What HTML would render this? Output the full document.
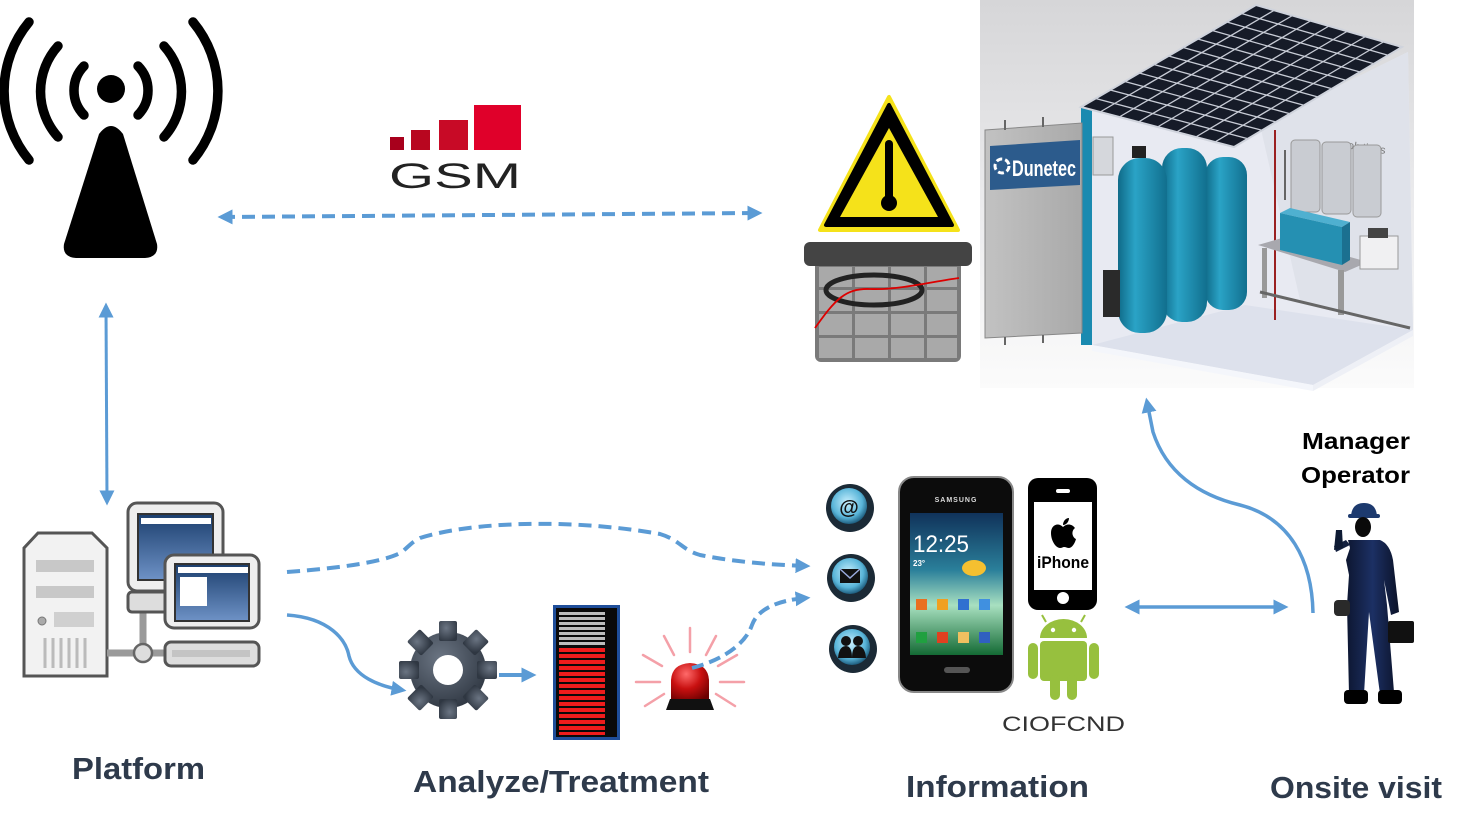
<!DOCTYPE html>
<html><head><meta charset="utf-8"><style>
html,body{margin:0;padding:0;background:#fff;}
svg{display:block;}
.lbl{font-family:"Liberation Sans",sans-serif;font-weight:bold;fill:#2e3a4b;}
</style></head><body>
<svg width="1464" height="833" viewBox="0 0 1464 833" xmlns="http://www.w3.org/2000/svg">
<defs>
<marker id="ah" viewBox="0 0 10 10" refX="7" refY="5" markerUnits="userSpaceOnUse" markerWidth="15" markerHeight="15" orient="auto-start-reverse"><path d="M0,0 L10,5 L0,10 Z" fill="#5b9bd5"/></marker>
<linearGradient id="bgc" x1="0" y1="0" x2="0" y2="1"><stop offset="0" stop-color="#d6d6d8"/><stop offset="0.55" stop-color="#ececee"/><stop offset="1" stop-color="#fbfbfb"/></linearGradient>
<linearGradient id="tank" x1="0" y1="0" x2="1" y2="0"><stop offset="0" stop-color="#0f6a88"/><stop offset="0.35" stop-color="#2aa3c6"/><stop offset="1" stop-color="#116f8e"/></linearGradient>
<linearGradient id="scr" x1="0" y1="0" x2="0" y2="1"><stop offset="0" stop-color="#1c3f6e"/><stop offset="1" stop-color="#6e92c6"/></linearGradient>
<linearGradient id="ph" x1="0" y1="0" x2="0" y2="1"><stop offset="0" stop-color="#10325a"/><stop offset="0.4" stop-color="#2a7f9a"/><stop offset="0.65" stop-color="#a8e0c0"/><stop offset="1" stop-color="#136a34"/></linearGradient>
<radialGradient id="ic" cx="0.45" cy="0.4" r="0.6"><stop offset="0" stop-color="#c8f0ff"/><stop offset="0.7" stop-color="#58b4d8"/><stop offset="1" stop-color="#1f5f80"/></radialGradient>
<radialGradient id="gear" cx="0.4" cy="0.35" r="0.7"><stop offset="0" stop-color="#6b7583"/><stop offset="1" stop-color="#2f3742"/></radialGradient>
<radialGradient id="dome" cx="0.4" cy="0.3" r="0.8"><stop offset="0" stop-color="#ff6a6a"/><stop offset="0.5" stop-color="#c81010"/><stop offset="1" stop-color="#6a0000"/></radialGradient>
<linearGradient id="door" x1="0" y1="0" x2="1" y2="0"><stop offset="0" stop-color="#c2c2c2"/><stop offset="1" stop-color="#a9a9a9"/></linearGradient>
<linearGradient id="worker" x1="0" y1="0" x2="1" y2="0"><stop offset="0" stop-color="#0d1630"/><stop offset="0.5" stop-color="#1c3064"/><stop offset="1" stop-color="#0b1228"/></linearGradient>
</defs>

<!-- Antenna -->
<g fill="none" stroke="#000" stroke-width="9.5" stroke-linecap="round">
<path d="M84,66 A35,35 0 0 0 84,115"/>
<path d="M138,66 A35,35 0 0 1 138,115"/>
<path d="M58,46 A68,68 0 0 0 58,137"/>
<path d="M164,46 A68,68 0 0 1 164,137"/>
<path d="M29,22 A108,108 0 0 0 29,160"/>
<path d="M193,22 A108,108 0 0 1 193,160"/>
</g>
<circle cx="111" cy="89" r="14" fill="#000"/>
<path d="M99,134 Q111,118 123,134 L157,244 Q159,257 145,258 L76,258 Q62,257 64,244 Z" fill="#000"/>

<!-- GSM -->
<rect x="390" y="137" width="14" height="13" fill="#a8001c"/>
<rect x="411" y="130" width="19" height="20" fill="#b8061f"/>
<rect x="439" y="120" width="29" height="30" fill="#c80a26"/>
<rect x="474" y="105" width="47" height="45" fill="#e0002a"/>
<text x="389" y="188" font-family="Liberation Sans, sans-serif" font-size="35" fill="#222" textLength="132" lengthAdjust="spacingAndGlyphs">GSM</text>

<!-- Warning triangle -->
<path d="M889,97 L820,230 L958,230 Z" fill="#f5e21a" stroke="#f5e21a" stroke-width="4" stroke-linejoin="round"/>
<path d="M889,105 L826,225 L952,225 Z" fill="#000" stroke="#000" stroke-width="4" stroke-linejoin="round"/>
<path d="M889,128 L840,217 L938,217 Z" fill="#f5e21a"/>
<rect x="885" y="140" width="8" height="60" rx="4" fill="#000"/>
<circle cx="889" cy="203" r="8" fill="#000"/>

<!-- Calendar -->
<rect x="815" y="258" width="146" height="104" rx="6" fill="#7a7a7a"/>
<g fill="#a9a9a9">
<rect x="819" y="267" width="33" height="20"/><rect x="855" y="267" width="33" height="20"/><rect x="891" y="267" width="33" height="20"/><rect x="927" y="267" width="30" height="20"/>
<rect x="819" y="290" width="33" height="21"/><rect x="855" y="290" width="33" height="21"/><rect x="891" y="290" width="33" height="21"/><rect x="927" y="290" width="30" height="21"/>
<rect x="819" y="314" width="33" height="21"/><rect x="855" y="314" width="33" height="21"/><rect x="891" y="314" width="33" height="21"/><rect x="927" y="314" width="30" height="21"/>
<rect x="819" y="338" width="33" height="20"/><rect x="855" y="338" width="33" height="20"/><rect x="891" y="338" width="33" height="20"/><rect x="927" y="338" width="30" height="20"/>
</g>
<rect x="804" y="242" width="168" height="24" rx="6" fill="#444"/>
<ellipse cx="874" cy="290" rx="48" ry="15" fill="none" stroke="#222" stroke-width="5"/>
<path d="M815,328 C835,300 845,288 870,289 C900,290 930,282 959,278" fill="none" stroke="#d00" stroke-width="1.8"/>

<!-- Container image -->
<rect x="980" y="0" width="434" height="388" fill="url(#bgc)"/>
<polygon points="1092,110 1234,147 1260,125 1408,52 1413,330 1313,385 1092,345" fill="#e8eaf2"/>
<polygon points="1260,125 1408,52 1413,330 1300,300" fill="#dfe2ea"/>
<polygon points="1092,345 1245,305 1413,330 1313,385" fill="#dde1ec"/>
<polygon points="1092,345 1313,385 1313,391 1092,351" fill="#f4f6fb"/>
<polygon points="1313,385 1413,330 1413,336 1313,391" fill="#eef0f6"/>
<text x="1336" y="147" font-family="Liberation Sans, sans-serif" font-size="11" fill="#777" transform="rotate(8 1336 147)">osolutions</text>
<!-- filters -->
<rect x="1291" y="140" width="29" height="72" rx="4" fill="#c9ccd2" stroke="#999" stroke-width="1"/>
<rect x="1322" y="142" width="29" height="72" rx="4" fill="#c9ccd2" stroke="#999" stroke-width="1"/>
<rect x="1353" y="145" width="28" height="72" rx="4" fill="#c9ccd2" stroke="#999" stroke-width="1"/>
<line x1="1285" y1="150" x2="1285" y2="200" stroke="#666" stroke-width="2"/>
<line x1="1275" y1="130" x2="1275" y2="320" stroke="#9a2020" stroke-width="2"/>
<!-- bench and box -->
<polygon points="1258,245 1282,238 1368,262 1345,272" fill="#a8a8ae"/>
<rect x="1262" y="248" width="5" height="50" fill="#999"/>
<rect x="1338" y="270" width="6" height="45" fill="#999"/>
<polygon points="1280,213 1290,208 1350,222 1342,227" fill="#4fb0d0"/>
<polygon points="1280,213 1342,227 1342,265 1280,250" fill="#2590b2"/>
<polygon points="1342,227 1350,222 1350,260 1342,265" fill="#1b7090"/>
<rect x="1360" y="236" width="38" height="33" fill="#f0f0f2" stroke="#999" stroke-width="1"/>
<rect x="1368" y="228" width="20" height="10" fill="#444"/>
<line x1="1260" y1="292" x2="1410" y2="328" stroke="#666" stroke-width="3"/>
<!-- tanks -->
<rect x="1205" y="157" width="42" height="153" rx="18" fill="url(#tank)"/>
<rect x="1162" y="148" width="45" height="174" rx="20" fill="url(#tank)"/>
<rect x="1118" y="158" width="49" height="175" rx="22" fill="url(#tank)"/>
<rect x="1132" y="146" width="14" height="12" fill="#222"/>
<rect x="1093" y="137" width="20" height="38" fill="#d5d7dc" stroke="#999" stroke-width="1"/>
<rect x="1103" y="270" width="17" height="47" fill="#2a2a2a"/>
<!-- frame post -->
<rect x="1081" y="107" width="11" height="238" fill="#1a8ab0"/>
<!-- door -->
<polygon points="985,130 1082,123 1082,333 985,338" fill="url(#door)" stroke="#888" stroke-width="1"/>
<rect x="1004" y="120" width="2" height="10" fill="#666"/><rect x="1042" y="117" width="2" height="10" fill="#666"/>
<rect x="1004" y="337" width="2" height="8" fill="#666"/><rect x="1042" y="335" width="2" height="8" fill="#666"/>
<polygon points="990,146 1080,140 1080,185 990,190" fill="#2c5b8c"/>
<circle cx="1002" cy="166" r="7" fill="none" stroke="#fff" stroke-width="3" stroke-dasharray="6 3"/>
<text x="1012" y="176" font-family="Liberation Sans, sans-serif" font-weight="bold" font-size="22" fill="#fff" textLength="64" lengthAdjust="spacingAndGlyphs">Dunetec</text>
<!-- solar panel -->
<polygon points="1081,107 1256,5 1402,47 1234,147" fill="#161b28" stroke="#cfd3dc" stroke-width="2"/>
<g stroke="#c8ccd6" stroke-width="1.3">
<line x1="1095.6" y1="98.5" x2="1248" y2="138.7"/><line x1="1110.2" y1="90" x2="1262" y2="130.3"/><line x1="1124.75" y1="81.5" x2="1276" y2="122"/><line x1="1139.3" y1="73" x2="1290" y2="113.7"/><line x1="1153.9" y1="64.5" x2="1304" y2="105.3"/><line x1="1168.5" y1="56" x2="1318" y2="97"/><line x1="1183.1" y1="47.5" x2="1332" y2="88.7"/><line x1="1197.7" y1="39" x2="1346" y2="80.3"/><line x1="1212.25" y1="30.5" x2="1360" y2="72"/><line x1="1226.8" y1="22" x2="1374" y2="63.7"/><line x1="1241.4" y1="13.5" x2="1388" y2="55.3"/>
<line x1="1100.1" y1="112" x2="1274.25" y2="10.25"/><line x1="1119.25" y1="117" x2="1292.5" y2="15.5"/><line x1="1138.4" y1="122" x2="1310.75" y2="20.75"/><line x1="1157.5" y1="127" x2="1329" y2="26"/><line x1="1176.6" y1="132" x2="1347.25" y2="31.25"/><line x1="1195.75" y1="137" x2="1365.5" y2="36.5"/><line x1="1214.9" y1="142" x2="1383.75" y2="41.75"/>
</g>

<!-- Platform computers -->
<path d="M38,533 L92,533 L107,548 L107,676 L24,676 L24,548 Z" fill="#f2f2f2" stroke="#555" stroke-width="3"/>
<rect x="36" y="560" width="58" height="12" fill="#c8c8c8"/>
<rect x="36" y="586" width="58" height="12" fill="#c8c8c8"/>
<circle cx="42" cy="621" r="4" fill="#aaa" stroke="#777"/>
<rect x="54" y="612" width="40" height="15" fill="#d0d0d0"/>
<g stroke="#bbb" stroke-width="3"><line x1="45" y1="638" x2="45" y2="668"/><line x1="53" y1="638" x2="53" y2="668"/><line x1="61" y1="638" x2="61" y2="668"/><line x1="69" y1="638" x2="69" y2="668"/><line x1="77" y1="638" x2="77" y2="668"/><line x1="85" y1="638" x2="85" y2="668"/></g>
<line x1="107" y1="653" x2="168" y2="653" stroke="#9a9a9a" stroke-width="7"/>
<line x1="143" y1="610" x2="143" y2="650" stroke="#9a9a9a" stroke-width="7"/>
<rect x="128" y="592" width="42" height="20" rx="4" fill="#ddd" stroke="#555" stroke-width="3"/>
<rect x="128" y="503" width="95" height="88" rx="9" fill="#eee" stroke="#555" stroke-width="3"/>
<rect x="138" y="514" width="75" height="66" fill="url(#scr)" stroke="#333" stroke-width="2"/>
<rect x="141" y="518" width="70" height="6" fill="#fff"/>
<circle cx="143" cy="653" r="9" fill="#ddd" stroke="#666" stroke-width="2.5"/>
<rect x="165" y="555" width="94" height="73" rx="9" fill="#eee" stroke="#555" stroke-width="3"/>
<rect x="175" y="564" width="74" height="57" fill="url(#scr)" stroke="#333" stroke-width="2"/>
<rect x="178" y="567" width="70" height="6" fill="#fff"/>
<rect x="180" y="577" width="27" height="29" fill="#fff"/>
<rect x="165" y="642" width="94" height="24" rx="6" fill="#ddd" stroke="#555" stroke-width="3"/>
<rect x="172" y="650" width="78" height="7" fill="#c4c4c4"/>

<!-- Gear -->
<g transform="translate(448,670)" fill="url(#gear)">
<circle r="38"/>
<rect x="-9" y="-49" width="18" height="20" rx="2"/>
<rect x="-9" y="-49" width="18" height="20" rx="2" transform="rotate(45)"/>
<rect x="-9" y="-49" width="18" height="20" rx="2" transform="rotate(90)"/>
<rect x="-9" y="-49" width="18" height="20" rx="2" transform="rotate(135)"/>
<rect x="-9" y="-49" width="18" height="20" rx="2" transform="rotate(180)"/>
<rect x="-9" y="-49" width="18" height="20" rx="2" transform="rotate(225)"/>
<rect x="-9" y="-49" width="18" height="20" rx="2" transform="rotate(270)"/>
<rect x="-9" y="-49" width="18" height="20" rx="2" transform="rotate(315)"/>
<circle r="15" fill="#fff"/>
</g>

<!-- Bar meter -->
<rect x="553" y="605" width="67" height="135" fill="#1f4e9a"/>
<rect x="556" y="608" width="61" height="129" fill="#0a0a0a"/>
<g fill="#bdbdbd">
<rect x="559" y="612" width="46" height="3"/><rect x="559" y="617" width="46" height="3"/><rect x="559" y="622" width="46" height="3"/><rect x="559" y="627" width="46" height="3"/><rect x="559" y="632" width="46" height="3"/><rect x="559" y="637" width="46" height="3"/><rect x="559" y="642" width="46" height="3"/>
</g>
<g fill="#ee1c1c">
<rect x="559" y="648" width="46" height="4"/><rect x="559" y="654" width="46" height="4"/><rect x="559" y="660" width="46" height="4"/><rect x="559" y="666" width="46" height="4"/><rect x="559" y="672" width="46" height="4"/><rect x="559" y="678" width="46" height="4"/><rect x="559" y="684" width="46" height="4"/><rect x="559" y="690" width="46" height="4"/><rect x="559" y="696" width="46" height="4"/><rect x="559" y="702" width="46" height="4"/><rect x="559" y="708" width="46" height="4"/><rect x="559" y="714" width="46" height="4"/><rect x="559" y="720" width="46" height="4"/><rect x="559" y="726" width="46" height="4"/><rect x="559" y="732" width="46" height="3"/>
</g>

<!-- Siren -->
<g stroke="#f4a0a8" stroke-width="2.5" stroke-linecap="round">
<line x1="690" y1="628" x2="690" y2="652"/>
<line x1="664" y1="636" x2="674" y2="655"/>
<line x1="716" y1="636" x2="706" y2="655"/>
<line x1="643" y1="655" x2="662" y2="666"/>
<line x1="737" y1="655" x2="718" y2="666"/>
<line x1="636" y1="682" x2="660" y2="682"/>
<line x1="720" y1="682" x2="744" y2="682"/>
<line x1="645" y1="706" x2="664" y2="694"/>
<line x1="735" y1="706" x2="716" y2="694"/>
</g>
<path d="M671,700 L671,680 Q672,664 690,663 Q708,664 709,680 L709,700 Z" fill="url(#dome)"/>
<path d="M666,710 L670,699 L710,699 L714,710 Z" fill="#111"/>

<!-- Info icons -->
<g>
<circle cx="850" cy="508" r="24" fill="#1b2a36"/><circle cx="849" cy="506" r="18" fill="url(#ic)"/>
<text x="849" y="514" text-anchor="middle" font-family="Liberation Sans, sans-serif" font-weight="bold" font-size="20" fill="#111">@</text>
<circle cx="851" cy="578" r="24" fill="#1b2a36"/><circle cx="850" cy="576" r="18" fill="url(#ic)"/>
<rect x="840" y="569" width="20" height="14" fill="#111"/><path d="M840,569 L850,578 L860,569" fill="none" stroke="#9ad" stroke-width="1.5"/>
<circle cx="853" cy="649" r="24" fill="#1b2a36"/><circle cx="852" cy="647" r="18" fill="url(#ic)"/>
<circle cx="846" cy="641" r="5" fill="#111"/><circle cx="858" cy="641" r="5" fill="#111"/>
<path d="M838,658 Q839,646 846,646 Q852,646 852,658 Z M852,658 Q852,646 858,646 Q865,646 866,658 Z" fill="#111"/>
</g>

<!-- Samsung phone -->
<rect x="899" y="477" width="114" height="215" rx="15" fill="#0c0c0c" stroke="#888" stroke-width="2"/>
<text x="956" y="502" text-anchor="middle" font-family="Liberation Sans, sans-serif" font-weight="bold" font-size="7" fill="#ddd" letter-spacing="1">SAMSUNG</text>
<rect x="910" y="513" width="93" height="142" fill="url(#ph)"/>
<text x="913" y="552" font-family="Liberation Sans, sans-serif" font-size="24" fill="#fff" textLength="56" lengthAdjust="spacingAndGlyphs">12:25</text>
<text x="913" y="566" font-family="Liberation Sans, sans-serif" font-weight="bold" font-size="8" fill="#fff">23°</text>
<ellipse cx="974" cy="568" rx="12" ry="8" fill="#f5c030"/>
<g><rect x="916" y="599" width="11" height="11" fill="#e87020"/><rect x="937" y="599" width="11" height="11" fill="#f0a020"/><rect x="958" y="599" width="11" height="11" fill="#3070d0"/><rect x="979" y="599" width="11" height="11" fill="#4090e0"/>
<rect x="916" y="632" width="11" height="11" fill="#20a040"/><rect x="937" y="632" width="11" height="11" fill="#e04020"/><rect x="958" y="632" width="11" height="11" fill="#f0c060"/><rect x="979" y="632" width="11" height="11" fill="#3060c0"/></g>
<rect x="944" y="667" width="26" height="6" rx="3" fill="#555"/>

<!-- iPhone -->
<rect x="1028" y="478" width="69" height="132" rx="10" fill="#000"/>
<rect x="1034" y="502" width="58" height="88" fill="#fff"/>
<rect x="1056" y="489" width="14" height="4" rx="2" fill="#fff"/>
<circle cx="1063" cy="598" r="6" fill="#fff"/>
<path d="M1063,527 C1058,522 1051,525 1051,533 C1051,541 1056,548 1060,548 C1062,548 1063,547 1064,547 C1066,547 1067,548 1069,548 C1072,548 1075,543 1076,539 C1072,537 1071,531 1075,528 C1072,524 1067,523 1063,527 Z M1063,525 C1063,521 1066,518 1069,518 C1069,522 1066,525 1063,525 Z" fill="#000"/>
<text x="1063" y="568" text-anchor="middle" font-family="Liberation Sans, sans-serif" font-weight="bold" font-size="17" fill="#000" textLength="52" lengthAdjust="spacingAndGlyphs">iPhone</text>

<!-- Android -->
<g fill="#97c03e">
<path d="M1040,638 A23.5,19 0 0 1 1087,638 Z"/>
<rect x="1040" y="641" width="47" height="40" rx="4"/>
<rect x="1028" y="643" width="10" height="36" rx="5"/>
<rect x="1089" y="643" width="10" height="36" rx="5"/>
<rect x="1050" y="675" width="10" height="25" rx="5"/>
<rect x="1067" y="675" width="10" height="25" rx="5"/>
</g>
<line x1="1046" y1="622" x2="1042" y2="615" stroke="#97c03e" stroke-width="2"/>
<line x1="1081" y1="622" x2="1085" y2="615" stroke="#97c03e" stroke-width="2"/>
<circle cx="1053" cy="630" r="2.2" fill="#fff"/><circle cx="1074" cy="630" r="2.2" fill="#fff"/>
<text x="1002" y="731" font-family="Liberation Sans, sans-serif" font-size="21" fill="#333" textLength="123" lengthAdjust="spacingAndGlyphs">CIOFCND</text>

<!-- Worker -->
<g>
<path d="M1351,516 Q1352,503 1364,503 Q1376,503 1377,516 Z" fill="#1d3a6e"/>
<rect x="1348" y="514" width="32" height="4" rx="2" fill="#1d3a6e"/>
<ellipse cx="1363" cy="527" rx="8" ry="10" fill="#0a0a0a"/>
<path d="M1348,540 L1380,540 Q1390,544 1393,560 L1399,612 L1391,615 L1384,580 L1387,605 L1394,692 L1380,694 L1369,612 L1364,694 L1349,694 L1347,605 L1349,575 L1346,560 L1350,548 Z" fill="url(#worker)"/>
<path d="M1350,545 L1336,552 L1334,546 L1346,540 Z" fill="#14213f"/>
<path d="M1334,550 L1336,530 L1342,530 L1343,548 Z" fill="#0e1a33"/>
<rect x="1334" y="600" width="16" height="16" rx="4" fill="#2a2a2a"/>
<rect x="1388" y="621" width="26" height="22" rx="2" fill="#111"/>
<rect x="1344" y="690" width="24" height="14" rx="4" fill="#000"/>
<rect x="1378" y="690" width="24" height="14" rx="4" fill="#000"/>
</g>

<!-- Connectors -->
<g fill="none" stroke="#5b9bd5" stroke-width="4">
<path d="M222,217 L758,213" stroke-dasharray="13 7" marker-start="url(#ah)" marker-end="url(#ah)"/>
<path d="M106,307 L107,501" stroke-width="3" marker-start="url(#ah)" marker-end="url(#ah)"/>
<path d="M287,572 C340,568 385,562 402,552 C410,545 412,542 420,538 C470,522 570,518 660,534 C680,540 682,550 700,555 C740,563 780,565 806,566" stroke-dasharray="13 7" marker-end="url(#ah)"/>
<path d="M287,615 C330,618 346,640 349,656 C354,676 378,686 402,690" stroke-width="3.5" marker-end="url(#ah)"/>
<path d="M499,675 L532,675" stroke-width="4" marker-end="url(#ah)"/>
<path d="M692,668 C722,660 745,645 752,625 C758,608 780,600 806,598" stroke-dasharray="12 6" marker-end="url(#ah)"/>
<path d="M1129,607 L1284,607" stroke-width="3.5" marker-start="url(#ah)" marker-end="url(#ah)"/>
<path d="M1313,613 C1312,560 1290,518 1240,505 C1198,495 1166,472 1153,432 L1147,402" stroke-width="3.5" marker-end="url(#ah)"/>
</g>

<!-- Labels -->
<text class="lbl" x="72" y="779" font-size="31" textLength="133" lengthAdjust="spacingAndGlyphs">Platform</text>
<text class="lbl" x="413" y="792" font-size="31" textLength="296" lengthAdjust="spacingAndGlyphs">Analyze/Treatment</text>
<text class="lbl" x="906" y="797" font-size="31" textLength="183" lengthAdjust="spacingAndGlyphs">Information</text>
<text class="lbl" x="1270" y="798" font-size="31" textLength="172" lengthAdjust="spacingAndGlyphs">Onsite visit</text>
<text x="1302" y="449" font-family="Liberation Sans, sans-serif" font-weight="bold" font-size="23" fill="#000" textLength="108" lengthAdjust="spacingAndGlyphs">Manager</text>
<text x="1301" y="483" font-family="Liberation Sans, sans-serif" font-weight="bold" font-size="23" fill="#000" textLength="109" lengthAdjust="spacingAndGlyphs">Operator</text>
</svg>
</body></html>
